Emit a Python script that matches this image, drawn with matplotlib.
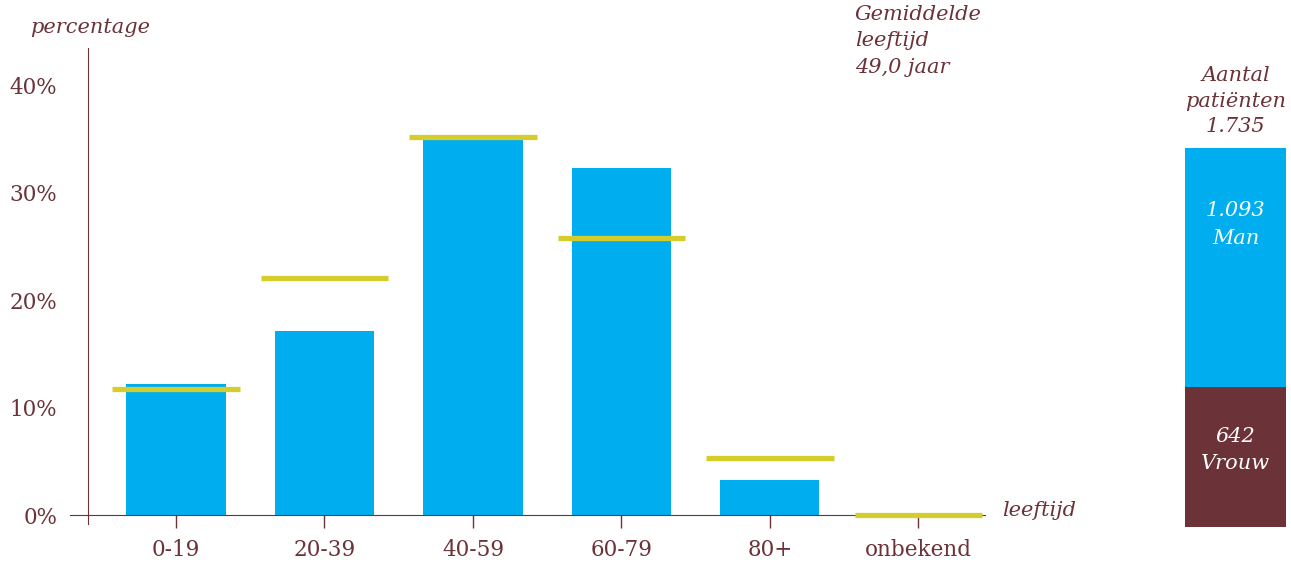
import numpy as np
import matplotlib.pyplot as plt

# data
categories = ["0-19", "20-39", "40-59", "60-79", "80+", "onbekend"]
pct_bars = [12.2, 17.1, 35.1, 32.3, 3.3, 0.0]
pct_ref = [11.7, 22.1, 35.2, 25.8, 5.3, 0.0]
yticks = [0, 10, 20, 30, 40]
n_man = 1093
n_vrouw = 642
n_total = 1735

blue = "#00AEEF"
yellow = "#D4CD2B"
brown = "#6B3238"

plt.rcParams['font.family'] = ['DejaVu Serif']

fig = plt.figure(figsize=(12.91, 5.63), dpi=100)

# main chart
ax = fig.add_axes([0.0542, 0.070, 0.709, 0.8447])
x = np.arange(len(categories))
ax.bar(x, pct_bars, width=0.667, color=blue, zorder=2)
ax.hlines(pct_ref, x - 0.43, x + 0.43, color=yellow, linewidth=3.8, zorder=3)

ax.set_xlim(-0.714, 5.45)
ax.set_ylim(-0.8, 43.5)
for s in ["top", "right"]:
    ax.spines[s].set_visible(False)
ax.spines["left"].set_position(("data", -0.593))
ax.spines["bottom"].set_position(("data", 0))
ax.spines["left"].set_color(brown)
ax.spines["bottom"].set_color(brown)

ax.set_xticks(x)
ax.set_xticklabels(categories)
ax.set_yticks(yticks)
ax.set_yticklabels([f"{v}%" for v in yticks])
ax.tick_params(axis="x", colors=brown, length=9, width=1, labelsize=15.5, pad=8)
ax.tick_params(axis="y", colors=brown, length=0, labelsize=15.5, pad=22)

fig.text(0.023, 0.952, "percentage", color=brown, fontsize=15, style="italic", va="center")
fig.text(0.776, 0.093, "leeftijd", color=brown, fontsize=15, style="italic", va="center")
fig.text(0.662, 0.992, "Gemiddelde\nleeftijd\n49,0 jaar", color=brown, fontsize=15,
         style="italic", va="top", ha="left", linespacing=1.5)

# stacked bar on the right
ax2 = fig.add_axes([0.918, 0.064, 0.0782, 0.673])
ax2.bar([0], [n_vrouw], width=1, color=brown)
ax2.bar([0], [n_man], width=1, bottom=n_vrouw, color=blue)
ax2.set_xlim(-0.5, 0.5)
ax2.set_ylim(0, n_total)
ax2.axis("off")
ax2.text(0, n_vrouw + n_man * 0.68, f"{n_man:,}".replace(",", ".") + "\nMan", color="white",
         fontsize=15, style="italic", ha="center", va="center", linespacing=1.55)
ax2.text(0, n_vrouw * 0.55, f"{n_vrouw}\nVrouw", color="white",
         fontsize=15, style="italic", ha="center", va="center", linespacing=1.55)
fig.text(0.957, 0.8206, "Aantal\npatiënten\n" + f"{n_total:,}".replace(",", "."), color=brown,
         fontsize=15, style="italic", ha="center", va="center", linespacing=1.45)

fig.savefig("out.png", dpi=100)
